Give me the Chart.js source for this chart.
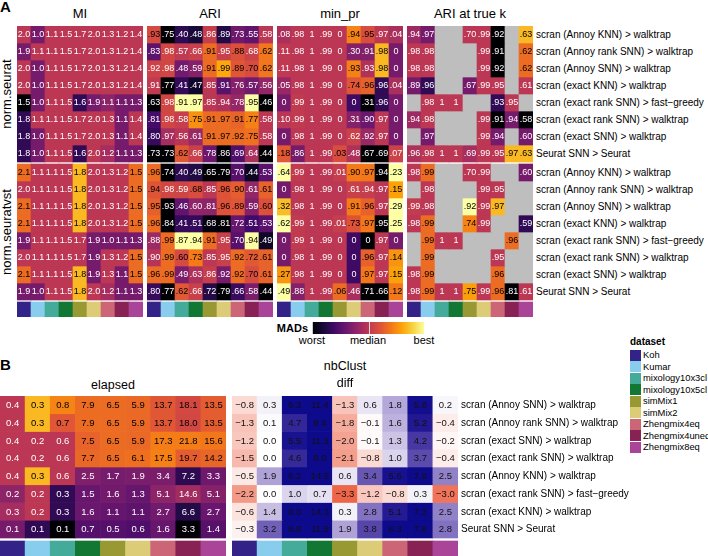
<!DOCTYPE html>
<html>
<head>
<meta charset="utf-8">
<script src="https://cdn.jsdelivr.net/npm/chart.js@4.4.1/dist/chart.umd.min.js"></script>
<style>
body{margin:0;background:#fff;font-family:"Liberation Sans",Arial,sans-serif;}
#wrap{position:relative;width:708px;height:556px;overflow:hidden;background:#fff}
canvas{position:absolute}
.t{position:absolute;white-space:nowrap;color:#000}
</style>
</head>
<body>
<div id="wrap"></div>
<script>
// datasets (columns) and their colour strip
var datasetNames = ['Koh','Kumar','mixology10x3cl','mixology10x5cl','simMix1','simMix2','Zhengmix4eq','Zhengmix4uneq','Zhengmix8eq'];
var datasetColors = ['#332288','#88CCEE','#44AA99','#117733','#999933','#DDCC77','#CC6677','#882255','#AA4499'];

var normLabels = ['norm.seurat','norm.seuratvst'];
var methodsA = ['scran (Annoy KNN) > walktrap','scran (Annoy rank SNN) > walktrap','scran (Annoy SNN) > walktrap',
  'scran (exact KNN) > walktrap','scran (exact rank SNN) > fast\u2212greedy','scran (exact rank SNN) > walktrap',
  'scran (exact SNN) > walktrap','Seurat SNN > Seurat'];
var methodsB = ['scran (Annoy SNN) > walktrap','scran (Annoy rank SNN) > walktrap','scran (exact SNN) > walktrap',
  'scran (exact rank SNN) > walktrap','scran (Annoy KNN) > walktrap','scran (exact rank SNN) > fast\u2212greedy',
  'scran (exact KNN) > walktrap','Seurat SNN > Seurat'];

// panel A: 8 rows norm.seurat then 8 rows norm.seuratvst
var miValues = [
  [2.0,1.0,1.1,1.5,1.7,2.0,1.3,1.2,1.4],
  [1.9,1.1,1.1,1.5,1.7,2.0,1.3,1.2,1.4],
  [2.0,1.0,1.1,1.5,1.7,2.0,1.3,1.2,1.4],
  [2.0,1.0,1.1,1.5,1.7,2.0,1.3,1.2,1.4],
  [1.5,1.0,1.1,1.5,1.6,1.9,1.1,1.1,1.3],
  [1.8,1.1,1.1,1.5,1.7,2.0,1.3,1.1,1.4],
  [1.8,1.0,1.1,1.5,1.7,2.0,1.3,1.1,1.4],
  [1.8,1.0,1.1,1.5,1.6,2.0,1.2,1.1,1.3],
  [2.1,1.1,1.1,1.5,1.8,2.0,1.3,1.2,1.5],
  [2.0,1.1,1.1,1.5,1.8,2.0,1.3,1.2,1.5],
  [2.1,1.1,1.1,1.5,1.8,2.0,1.3,1.2,1.5],
  [2.1,1.1,1.1,1.5,1.8,2.0,1.3,1.2,1.5],
  [1.9,1.1,1.1,1.5,1.7,1.9,1.0,1.1,1.3],
  [2.0,1.1,1.1,1.5,1.7,1.9,1.3,1.2,1.5],
  [2.1,1.1,1.1,1.5,1.8,1.9,1.3,1.1,1.5],
  [1.9,1.0,1.1,1.5,1.8,2.0,1.2,1.1,1.3]
];
var ariValues = [
  [.93,.75,.40,.48,.86,.89,.73,.55,.58],
  [.83,.98,.57,.66,.91,.95,.88,.68,.62],
  [.92,.98,.48,.59,.91,.99,.89,.70,.62],
  [.91,.77,.41,.47,.85,.91,.76,.57,.56],
  [.63,.98,.91,.97,.85,.94,.78,.95,.46],
  [.81,.98,.58,.75,.91,.97,.91,.77,.58],
  [.80,.97,.56,.61,.91,.97,.92,.75,.58],
  [.73,.73,.62,.66,.78,.86,.69,.64,.44],
  [.96,.74,.40,.49,.65,.79,.70,.44,.53],
  [.94,.98,.59,.68,.85,.96,.90,.61,.61],
  [.95,.93,.46,.60,.81,.96,.89,.59,.60],
  [.96,.84,.41,.51,.68,.81,.72,.51,.53],
  [.88,.99,.87,.94,.91,.95,.70,.94,.49],
  [.90,.99,.60,.73,.85,.95,.92,.72,.61],
  [.96,.99,.49,.63,.86,.92,.92,.70,.61],
  [.80,.77,.62,.66,.72,.79,.66,.58,.44]
];
var minPrValues = [
  [.08,.98,1,.99,0,.94,.95,.97,.04],
  [.11,.98,1,.99,0,.30,.91,.98,0],
  [.11,.98,1,.99,0,.93,.93,.98,0],
  [.05,.98,1,.99,0,.74,.96,.96,.04],
  [0,.99,1,.99,0,0,.31,.96,0],
  [.10,.99,1,.99,0,.31,.90,.97,0],
  [0,.98,1,.99,0,.62,.92,.97,0],
  [.18,.86,1,.99,.03,.48,.67,.69,.07],
  [.64,.99,1,.99,.01,.90,.97,.94,.23],
  [0,.98,1,.99,0,.61,.94,.97,.15],
  [.32,.98,1,.99,0,.91,.96,.97,.29],
  [.62,.99,1,.99,.01,.73,.97,.95,.25],
  [0,.99,1,.99,0,0,0,.97,0],
  [0,.98,1,.99,0,0,.96,.97,.14],
  [.27,.98,1,.99,0,0,.97,.97,.15],
  [.49,.88,1,.99,.06,.46,.71,.66,.12]
];
var ariTrueKValues = [
  [.94,.97,null,null,.70,.99,.92,null,.63],
  [.98,.98,null,null,null,.99,.91,null,.62],
  [.98,.98,null,null,null,.99,.92,null,.62],
  [.89,.96,null,null,.67,.99,.95,null,.61],
  [null,.98,1,1,null,null,.93,.95,null],
  [.94,.98,null,null,null,.99,.91,.94,.58],
  [null,.97,null,null,null,.99,.94,null,.60],
  [.96,.98,1,1,.69,.99,.95,.97,.63],
  [.98,.99,null,null,.70,.99,null,null,.60],
  [null,.98,null,null,null,.99,.95,null,null],
  [.99,.98,null,null,.92,.99,.97,null,null],
  [.98,.99,null,null,.74,.99,null,null,.59],
  [null,.99,1,1,null,null,null,.96,null],
  [null,.99,null,null,null,null,.95,null,null],
  [.98,.99,null,null,null,null,.96,null,null],
  [.98,.99,1,1,.75,.99,.96,.81,.61]
];

// panel B
var elapsedValues = [
  [0.4,0.3,0.8,7.9,6.5,5.9,13.7,18.1,13.5],
  [0.4,0.3,0.7,7.9,6.5,5.9,13.7,18.0,13.5],
  [0.4,0.2,0.6,7.5,6.5,5.9,17.3,21.8,15.6],
  [0.4,0.2,0.6,7.7,6.5,6.1,17.5,19.7,14.2],
  [0.4,0.3,0.6,2.5,1.7,1.9,3.4,7.2,3.3],
  [0.2,0.2,0.3,1.5,1.6,1.3,5.1,14.6,5.1],
  [0.3,0.2,0.3,1.6,1.1,1.1,2.7,6.6,2.7],
  [0.1,0.1,0.1,0.7,0.5,0.6,1.6,3.3,1.4]
];
var diffValues = [
  [-0.8,0.3,6.3,11.4,-1.3,0.6,1.8,5.8,0.2],
  [-1.3,0.1,4.7,9.4,-1.8,-0.1,1.6,5.2,-0.4],
  [-1.2,0.0,5.5,11.3,-2.0,-0.1,1.3,4.2,-0.2],
  [-1.5,0.0,4.6,8.0,-2.1,-0.8,1.0,3.7,-0.4],
  [-0.5,1.9,6.2,14.5,0.6,3.4,5.6,7.8,2.5],
  [-2.2,0.0,1.0,0.7,-3.3,-1.2,-0.8,0.3,-3.0],
  [-0.6,1.4,8.0,14.3,0.3,2.8,5.1,7.3,2.5],
  [-0.3,3.2,6.8,11.8,1.9,3.8,6.3,7.6,2.8]
];

// ---------- colours ----------
var INF = ['#000004','#160b39','#420a68','#6a176e','#932667','#bc3754','#dd513a','#f37819','#fca50a','#f6d746','#fcffa4'];
function hex(h){ return [parseInt(h.substr(1,2),16),parseInt(h.substr(3,2),16),parseInt(h.substr(5,2),16)]; }
function mix(a,b,f){ return [a[0]+(b[0]-a[0])*f,a[1]+(b[1]-a[1])*f,a[2]+(b[2]-a[2])*f]; }
function rgb(c){ return 'rgb('+Math.round(c[0])+','+Math.round(c[1])+','+Math.round(c[2])+')'; }
function inferno(t){
  t = Math.max(0,Math.min(1,t));
  var p = t*10, i = Math.min(9,Math.floor(p));
  return mix(hex(INF[i]),hex(INF[i+1]),p-i);
}
function median(a){
  var s = a.slice().sort(function(x,y){return x-y;}), n = s.length;
  return n%2 ? s[(n-1)/2] : (s[n/2-1]+s[n/2])/2;
}
// MAD-scaled score per column
function madScores(m){
  var out = m.map(function(r){ return r.map(function(){ return null; }); });
  for (var j=0;j<m[0].length;j++){
    var v = [];
    for (var i=0;i<m.length;i++) if (m[i][j]!=null) v.push(m[i][j]);
    var med = median(v);
    var dev = v.map(function(x){ return Math.abs(x-med); });
    var mad = median(dev), mx = Math.max.apply(null,dev);
    if (mad<=0) mad = mx>0 ? mx : 1;
    for (var i=0;i<m.length;i++) if (m[i][j]!=null) out[i][j] = (m[i][j]-med)/mad;
  }
  return out;
}
function madColor(z){ return z==null ? hex('#bebebe') : inferno(0.5+z*0.17); }
function diffColor(v){
  if (v>=0){
    var stops = [[0,[255,255,255]],[1,[218,212,236]],[2,[170,156,212]],[3,[120,104,188]],[4,[78,62,166]],[5,[38,28,148]],[6,[14,10,140]]];
    if (v>=6) return stops[6][1];
    var k = Math.floor(v);
    return mix(stops[k][1],stops[k+1][1],v-k);
  }
  var f = Math.min(1,-v/3.6);
  return mix([255,255,255],[236,88,58],f);
}
function textOn(c){ return (0.299*c[0]+0.587*c[1]+0.114*c[2])/255 < 0.44 ? '#fff' : '#000'; }

function fmtFrac(v){ if (v==null) return null; if (v===1) return '1'; if (v===0) return '0'; return v.toFixed(2).replace(/^0/,''); }
function fmtOne(v){ return v.toFixed(1); }
function fmtDiff(v){ return v.toFixed(1).replace('-','\u2212'); }

// ---------- text drawn on the cells ----------
var cellTextPlugin = {
  id:'cellText',
  afterDatasetsDraw: function(chart, args, opts){
    var ctx = chart.ctx;
    ctx.save();
    ctx.font = opts.font;
    ctx.textAlign = 'center';
    ctx.textBaseline = 'middle';
    chart.data.datasets.forEach(function(ds,i){
      if (!ds.cellText) return;
      chart.getDatasetMeta(i).data.forEach(function(bar,j){
        var s = ds.cellText[j];
        if (s==null) return;
        ctx.fillStyle = opts.color || ds.textColor[j];
        ctx.fillText(s, bar.x, (bar.y+bar.base)/2+0.5);
      });
    });
    ctx.restore();
  }
};

var wrap = document.getElementById('wrap');
function addText(txt,x,y,css){
  var d = document.createElement('div');
  d.className = 't';
  d.textContent = txt;
  d.style.left = x+'px'; d.style.top = y+'px';
  if (css) for (var k in css) d.style[k] = css[k];
  wrap.appendChild(d);
  return d;
}

// one heatmap = one bar chart of floating bars, a row per dataset
function heatmap(left, top, w, h, values, colors, texts, groupSize, gap, stripGap, stripH, font, textColor){
  var cv = document.createElement('canvas');
  cv.width = w; cv.height = h;
  cv.style.left = left+'px'; cv.style.top = top+'px';
  wrap.appendChild(cv);
  var nGroups = values.length/groupSize;
  var body = values.length + (nGroups-1)*gap;
  var yMax = body + stripGap + stripH;
  var sets = values.map(function(row,r){
    var y0 = r + Math.floor(r/groupSize)*gap;
    return {
      data: row.map(function(){ return [y0, y0+1]; }),
      backgroundColor: colors[r].map(rgb),
      cellText: texts[r],
      textColor: colors[r].map(textOn)
    };
  });
  sets.push({
    data: datasetNames.map(function(){ return [body+stripGap, yMax]; }),
    backgroundColor: datasetColors
  });
  return new Chart(cv.getContext('2d'), {
    type: 'bar',
    data: { labels: datasetNames, datasets: sets },
    options: {
      responsive: false, animation: false, devicePixelRatio: 1,
      layout: { padding: 0 },
      datasets: { bar: { grouped: false, categoryPercentage: 1, barPercentage: 1, borderWidth: 0 } },
      scales: {
        x: { display: false, offset: true },
        y: { display: false, min: 0, max: yMax, reverse: true }
      },
      plugins: { legend: { display: false }, tooltip: { enabled: false }, cellText: { font: font, color: textColor } }
    },
    plugins: [cellTextPlugin]
  });
}

// ---------- panel A ----------
var cellFontA = '9px "Liberation Sans", Arial, sans-serif';
var metricsA = [
  {title:'MI', values:miValues, fmt:fmtOne},
  {title:'ARI', values:ariValues, fmt:fmtFrac},
  {title:'min_pr', values:minPrValues, fmt:fmtFrac},
  {title:'ARI at true k', values:ariTrueKValues, fmt:fmtFrac}
];
var panelLeftA = [17,147,277,407];
metricsA.forEach(function(m,k){
  var z = madScores(m.values);
  var cols = z.map(function(r){ return r.map(madColor); });
  var txt = m.values.map(function(r){ return r.map(function(v){ return v==null ? null : m.fmt(v); }); });
  heatmap(panelLeftA[k], 26, 126, 291, m.values, cols, txt, 8, 2/17, 2/17, 15/17, cellFontA);
  addText(m.title, panelLeftA[k], 6, {width:'126px', textAlign:'center', fontSize:'13px'});
});
addText('A', 0, -2, {fontSize:'15px', fontWeight:'bold'});
normLabels.forEach(function(lab,g){
  var cy = 26 + g*138 + 68;
  addText(lab, 7-60, cy-8, {width:'120px', textAlign:'center', fontSize:'13px', lineHeight:'16px', transform:'rotate(-90deg)'});
});
for (var g=0; g<2; g++){
  methodsA.forEach(function(lab,r){
    addText(lab, 536, 26 + g*138 + r*17, {fontSize:'10px', lineHeight:'17px'});
  });
}

// MADs legend
addText('MADs', 250, 321, {width:'58px', textAlign:'right', fontSize:'11px', fontWeight:'bold', lineHeight:'14px'});
var bar = document.createElement('div');
bar.style.cssText = 'position:absolute;left:312px;top:322px;width:113px;height:12px;background:linear-gradient(to right,'+INF.join(',')+')';
wrap.appendChild(bar);
[0,0.5,1].forEach(function(f){
  var tk = document.createElement('div');
  tk.style.cssText = 'position:absolute;top:322px;width:1px;height:12px;background:rgba(255,255,255,0.8);left:'+(312+Math.min(112,f*113))+'px';
  wrap.appendChild(tk);
});
addText('worst', 282, 334, {width:'60px', textAlign:'center', fontSize:'11px'});
addText('median', 338, 334, {width:'60px', textAlign:'center', fontSize:'11px'});
addText('best', 394, 334, {width:'60px', textAlign:'center', fontSize:'11px'});

// ---------- panel B ----------
var cellFontB = '9.5px "Liberation Sans", Arial, sans-serif';
addText('B', 0, 356, {fontSize:'15px', fontWeight:'bold'});
var ez = madScores(elapsedValues);
heatmap(0, 396, 226, 160, elapsedValues,
  ez.map(function(r){ return r.map(madColor); }),
  elapsedValues.map(function(r){ return r.map(fmtOne); }),
  8, 0, 3/17.75, 15/17.75, cellFontB);
addText('elapsed', 0, 378, {width:'226px', textAlign:'center', fontSize:'12.5px'});

// diff text stays dark on every cell
heatmap(232, 396, 226, 160, diffValues,
  diffValues.map(function(r){ return r.map(diffColor); }),
  diffValues.map(function(r){ return r.map(fmtDiff); }),
  8, 0, 3/17.75, 15/17.75, cellFontB, '#111');
addText('nbClust', 232, 359, {width:'226px', textAlign:'center', fontSize:'12.5px'});
addText('diff', 232, 376, {width:'226px', textAlign:'center', fontSize:'12.5px'});
methodsB.forEach(function(lab,r){
  addText(lab, 461, 396 + r*17.75, {fontSize:'10px', lineHeight:'17.75px'});
});

// dataset legend
addText('dataset', 630, 335, {fontSize:'10px', fontWeight:'bold', lineHeight:'14px'});
datasetNames.forEach(function(n,i){
  var sw = document.createElement('div');
  sw.style.cssText = 'position:absolute;left:630px;width:11px;height:11px;top:'+(349.5+i*11.5)+'px;background:'+datasetColors[i];
  wrap.appendChild(sw);
  addText(n, 643, 349 + i*11.5, {fontSize:'9.4px', lineHeight:'12px'});
});
</script>
</body>
</html>
